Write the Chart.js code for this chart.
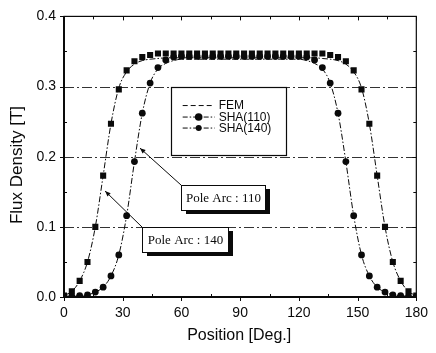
<!DOCTYPE html>
<html><head><meta charset="utf-8">
<script src="https://cdn.jsdelivr.net/npm/chart.js@4/dist/chart.umd.min.js"></script>
<style>html,body{margin:0;padding:0;background:#fff}canvas{display:block}</style>
</head><body>
<canvas id="c" width="436" height="353"></canvas>
<script>
// ---- data ----
const positions = [0,4,8,12,16,20,24,28,32,36,40,44,48,52,56,60,64,68,72,76,80,84,88,92,96,100,104,108,112,116,120,124,128,132,136,140,144,148,152,156,160,164,168,172,176,180];
const sha140 = [0.002,0.008,0.023,0.050,0.100,0.173,0.247,0.296,0.323,0.336,0.342,0.345,0.347,0.347,0.347,0.347,0.347,0.347,0.347,0.347,0.347,0.347,0.347,0.347,0.347,0.347,0.347,0.347,0.347,0.347,0.347,0.347,0.347,0.347,0.345,0.342,0.336,0.323,0.296,0.247,0.173,0.100,0.050,0.023,0.008,0.002];
const sha110 = [0.001,0.001,0.002,0.003,0.007,0.014,0.030,0.060,0.116,0.193,0.262,0.305,0.327,0.338,0.342,0.343,0.343,0.343,0.343,0.343,0.343,0.343,0.343,0.343,0.343,0.343,0.343,0.343,0.343,0.343,0.343,0.342,0.338,0.327,0.305,0.262,0.193,0.116,0.060,0.030,0.014,0.007,0.003,0.002,0.001,0.001];
const fem140 = [0.002,0.008,0.023,0.050,0.100,0.173,0.247,0.298,0.321,0.332,0.337,0.339,0.340,0.341,0.341,0.341,0.341,0.341,0.341,0.341,0.341,0.341,0.341,0.341,0.341,0.341,0.341,0.341,0.341,0.341,0.341,0.341,0.341,0.340,0.339,0.337,0.332,0.321,0.298,0.247,0.173,0.100,0.050,0.023,0.008,0.002];
const fem110 = [0.001,0.001,0.002,0.003,0.007,0.014,0.030,0.060,0.116,0.193,0.262,0.305,0.325,0.333,0.337,0.339,0.339,0.339,0.339,0.339,0.339,0.339,0.339,0.339,0.339,0.339,0.339,0.339,0.339,0.339,0.339,0.337,0.333,0.325,0.305,0.262,0.193,0.116,0.060,0.030,0.014,0.007,0.003,0.002,0.001,0.001];
const xTickValues = [0,30,60,90,120,150,180];
const yTickValues = [0.0,0.1,0.2,0.3,0.4];
const seriesNames = ['FEM','SHA(110)','SHA(140)'];
const annotationLabels = ['Pole Arc : 110','Pole Arc : 140'];
const xTitle = 'Position [Deg.]';
const yTitle = 'Flux Density [T]';

const pts = arr => positions.map((x,i)=>({x:x,y:arr[i]}));
const INK = '#0a0a0a';

const decor = {
  id:'decor',
  beforeDatasetsDraw(chart){
    const {ctx, chartArea:a, scales:{x,y}} = chart;
    ctx.save();
    ctx.strokeStyle = '#333'; ctx.lineWidth = 1;
    ctx.setLineDash([10,3,2,3]);
    [0.1,0.2,0.3].forEach(v=>{
      const py = Math.round(y.getPixelForValue(v))+0.5;
      ctx.beginPath(); ctx.moveTo(a.left,py); ctx.lineTo(a.right,py); ctx.stroke();
    });
    ctx.restore();
  },
  afterDatasetsDraw(chart){
    const {ctx, chartArea:a, scales:{x,y}} = chart;
    ctx.save();
    ctx.strokeStyle = INK; ctx.setLineDash([]);
    ctx.lineWidth = 1.2;
    ctx.strokeRect(a.left, a.top, a.right-a.left, a.bottom-a.top);
    ctx.lineWidth = 2;
    ctx.beginPath(); ctx.moveTo(a.left, a.top); ctx.lineTo(a.left, a.bottom); ctx.lineTo(a.right, a.bottom); ctx.stroke();
    ctx.lineWidth = 1;
    for(let v=0; v<=180; v+=15){
      const px = Math.round(x.getPixelForValue(v))+0.5;
      const major = v%30===0;
      ctx.beginPath();
      if(major){ ctx.moveTo(px,a.bottom); ctx.lineTo(px,a.bottom+4); }
      else { ctx.moveTo(px,a.bottom); ctx.lineTo(px,a.bottom-3); }
      ctx.moveTo(px,a.top); ctx.lineTo(px,a.top+(major?4:3));
      ctx.stroke();
    }
    for(let k=0; k<=8; k++){
      const v = k*0.05;
      const py = Math.round(y.getPixelForValue(v))+0.5;
      const major = k%2===0;
      ctx.beginPath();
      if(major){ ctx.moveTo(a.left,py); ctx.lineTo(a.left-4,py); }
      else { ctx.moveTo(a.left,py); ctx.lineTo(a.left+3,py); }
      ctx.moveTo(a.right,py); ctx.lineTo(a.right-(major?4:3),py);
      ctx.stroke();
    }
    ctx.restore();
  },
  afterDraw(chart){
    const {ctx, chartArea:a, scales:{x,y}} = chart;
    ctx.save();
    ctx.fillStyle = INK; ctx.textBaseline='middle'; ctx.textAlign='center';
    ctx.font = '16px "Liberation Sans", Arial, sans-serif';
    ctx.fillText(xTitle, (a.left+a.right)/2 - 1, 336);
    ctx.save();
    ctx.translate(17, 165); ctx.rotate(-Math.PI/2);
    ctx.font = '17px "Liberation Sans", Arial, sans-serif';
    ctx.fillText(yTitle, 0, 0);
    ctx.restore();

    // legend box
    const lx0 = x.getPixelForValue(54.5), lx1 = x.getPixelForValue(113.5);
    const ly0 = y.getPixelForValue(0.300), ly1 = y.getPixelForValue(0.203);
    ctx.fillStyle = '#fff'; ctx.fillRect(lx0, ly0, lx1-lx0, ly1-ly0);
    ctx.strokeStyle = INK; ctx.lineWidth = 1.2;
    ctx.strokeRect(Math.round(lx0)+0.5, Math.round(ly0)+0.5, Math.round(lx1-lx0), Math.round(ly1-ly0));
    const rows = [ly0+19, ly0+30.5, ly0+41.5];
    const sx0 = lx0+12, sx1 = lx0+44, sxm = (sx0+sx1)/2;
    ctx.lineWidth = 1;
    rows.forEach((ry,i)=>{
      ctx.strokeStyle = INK;
      ctx.beginPath();
      ctx.setLineDash(i===0?[5,3]:[5,2,1.5,2]);
      ctx.moveTo(sx0, ry); ctx.lineTo(sx1, ry); ctx.stroke();
      ctx.setLineDash([]);
      ctx.fillStyle = INK;
      if(i===1){ ctx.beginPath(); ctx.arc(sxm, ry, 3.8, 0, Math.PI*2); ctx.fill(); }
      if(i===2){ ctx.beginPath(); ctx.arc(sxm, ry, 3.0, 0, Math.PI*2); ctx.fill(); }
      ctx.font = '12px "Liberation Sans", Arial, sans-serif';
      ctx.textAlign='left';
      ctx.fillText(seriesNames[i], sx1+4, ry+0.5);
    });

    const notes = [
      {label: annotationLabels[0], bx: 59.7, by: 0.1594, w: 84, h: 25, tx: 38.85, ty: 0.2122},
      {label: annotationLabels[1], bx: 40.0, by: 0.1000, w: 86, h: 25, tx: 21.0, ty: 0.1510}
    ];
    notes.forEach(n=>{
      const bx = Math.round(x.getPixelForValue(n.bx)), by = Math.round(y.getPixelForValue(n.by));
      const tx = x.getPixelForValue(n.tx), ty = y.getPixelForValue(n.ty);
      ctx.strokeStyle = INK; ctx.fillStyle = INK; ctx.lineWidth = 1; ctx.setLineDash([]);
      ctx.beginPath(); ctx.moveTo(bx, by); ctx.lineTo(tx, ty); ctx.stroke();
      const ang = Math.atan2(ty-by, tx-bx), L = 6, sp = 0.4;
      ctx.beginPath();
      ctx.moveTo(tx, ty);
      ctx.lineTo(tx - L*Math.cos(ang-sp), ty - L*Math.sin(ang-sp));
      ctx.lineTo(tx - L*Math.cos(ang+sp), ty - L*Math.sin(ang+sp));
      ctx.closePath(); ctx.fill();
      ctx.fillRect(bx+5, by+4, n.w, n.h);
      ctx.fillStyle = '#fff'; ctx.fillRect(bx, by, n.w, n.h);
      ctx.strokeRect(bx+0.5, by+0.5, n.w, n.h);
      ctx.fillStyle = INK;
      ctx.font = '13px "Liberation Serif", "Times New Roman", serif';
      ctx.textAlign = 'center';
      ctx.fillText(n.label, bx + n.w/2 + 0.5, by + n.h/2 + 1);
    });
    ctx.restore();
  }
};

new Chart(document.getElementById('c'), {
  type: 'line',
  data: {
    datasets: [
      {label: seriesNames[2], data: pts(sha140), showLine:false, pointStyle:'rect', pointRadius:4.3, backgroundColor:INK, borderColor:INK, borderWidth:0},
      {label: seriesNames[1], data: pts(sha110), showLine:false, pointStyle:'circle', pointRadius:3.4, backgroundColor:INK, borderColor:INK, borderWidth:0},
      {label: seriesNames[0]+' 140', data: pts(fem140), pointRadius:0, borderColor:INK, borderWidth:1, borderDash:[6,2,1.5,2], cubicInterpolationMode:'monotone', fill:false},
      {label: seriesNames[0]+' 110', data: pts(fem110), pointRadius:0, borderColor:INK, borderWidth:1, borderDash:[6,2,1.5,2], cubicInterpolationMode:'monotone', fill:false}
    ]
  },
  options: {
    responsive:false, animation:false, devicePixelRatio:1,
    layout:{padding:{top:14,right:12,left:0,bottom:0}},
    plugins:{legend:{display:false}, tooltip:{enabled:false}},
    scales:{
      x:{type:'linear', min:0, max:180,
         afterBuildTicks: s => { s.ticks = xTickValues.map(v=>({value:v})); },
         afterFit: s => { s.height = 56; },
         grid:{display:false, drawTicks:false}, border:{display:false},
         ticks:{color:INK, padding:8, maxRotation:0, font:{family:'"Liberation Sans", Arial, sans-serif', size:14}, callback:v=>String(v)}},
      y:{type:'linear', min:0, max:0.4,
         afterBuildTicks: s => { s.ticks = yTickValues.map(v=>({value:v})); },
         afterFit: s => { s.width = 64; },
         grid:{display:false, drawTicks:false}, border:{display:false},
         ticks:{color:INK, padding:8, font:{family:'"Liberation Sans", Arial, sans-serif', size:14}, callback:v=>Number(v).toFixed(1)}}
    }
  },
  plugins:[decor]
});
</script>
</body></html>
